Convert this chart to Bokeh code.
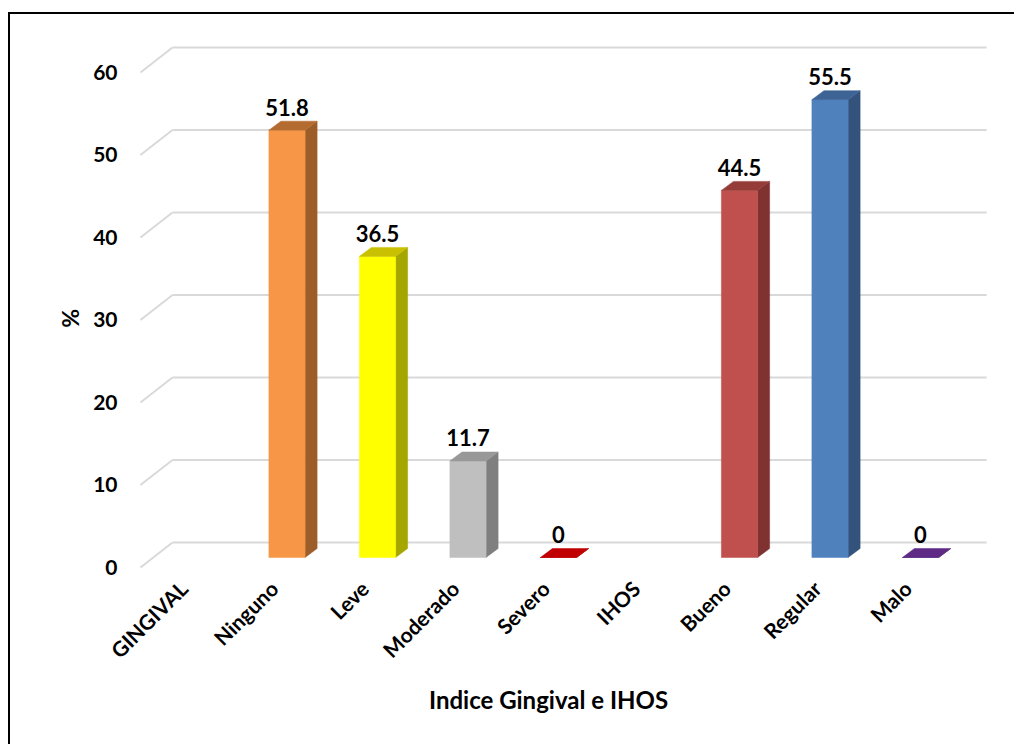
import math

from bokeh.core.properties import value
from bokeh.embed import file_html
from bokeh.models import (ColumnDataSource, FixedTicker, LinearAxis, Range1d)
from bokeh.plotting import figure
from bokeh.resources import INLINE

# ---- data -------------------------------------------------------------
categories = ["GINGIVAL", "Ninguno", "Leve", "Moderado", "Severo",
              "IHOS", "Bueno", "Regular", "Malo"]
percent = [None, 51.8, 36.5, 11.7, 0, None, 44.5, 55.5, 0]
front_colors = [None, "#F79646", "#FFFF00", "#BFBFBF", "#C00000",
                None, "#C0504D", "#4F81BD", "#5E2A86"]
side_colors = [None, "#9C5D29", "#A6A600", "#7F7F7F", "#8A0000",
               None, "#7F3230", "#33527C", "#3E1C5A"]
top_colors = [None, "#B46B30", "#C8C000", "#989898", "#C00000",
              None, "#953C39", "#3D6495", "#5E2A86"]
y_ticks = [0, 10, 20, 30, 40, 50, 60]
x_title = "Indice Gingival e IHOS"
y_title = "%"

# ---- pseudo-3D projection (category units / percent units) -----------
BAR_W = 0.40                      # width of a bar's front face
DEPTH_X, DEPTH_Y = 0.133, 1.09    # bar depth projected on the screen
WALL_Y = 1.82                     # back wall height shift behind the bars
FLOOR_X, FLOOR_Y = -0.144, -1.21  # front edge of the floor
WALL_X0, WALL_X1 = -0.265, 8.73   # back wall extent
SIDE_X0 = -0.619                  # front end of the side-wall diagonals

X_RANGE = (-0.729, 8.884)
Y_RANGE = (-1.576, 63.88)
FONT = "Lato"

p = figure(width=1006, height=732, output_backend="svg",
           toolbar_location=None, x_range=Range1d(*X_RANGE),
           y_range=Range1d(*Y_RANGE), x_axis_location=None,
           y_axis_location=None, min_border_left=120, min_border_right=16,
           min_border_top=16, min_border_bottom=176)
p.styles = {"margin-left": "8px", "margin-top": "12px",
            "border-left": "2px solid #000000",
            "border-top": "2px solid #000000"}
p.outline_line_color = None
p.background_fill_color = "white"
p.border_fill_color = "white"
p.grid.visible = False

# ---- walls: back gridlines plus the side-wall diagonals ----------------
p.segment(x0=[SIDE_X0] * len(y_ticks), y0=[t + FLOOR_Y for t in y_ticks],
          x1=[WALL_X0] * len(y_ticks), y1=[t + WALL_Y for t in y_ticks],
          line_color="#D9D9D9", line_width=2)
p.segment(x0=[WALL_X0] * len(y_ticks), y0=[t + WALL_Y for t in y_ticks],
          x1=[WALL_X1] * len(y_ticks), y1=[t + WALL_Y for t in y_ticks],
          line_color="#D9D9D9", line_width=2)

# ---- bars -------------------------------------------------------------
front = dict(left=[], right=[], top=[], color=[])
sides = dict(xs=[], ys=[], color=[])
tops = dict(xs=[], ys=[], color=[])
labels = dict(x=[], y=[], text=[])
for i, v in enumerate(percent):
    if v is None:
        continue
    l, r = i - BAR_W / 2, i + BAR_W / 2
    front["left"].append(l)
    front["right"].append(r)
    front["top"].append(v)
    front["color"].append(front_colors[i])
    sides["xs"].append([r, r + DEPTH_X, r + DEPTH_X, r])
    sides["ys"].append([0, DEPTH_Y, v + DEPTH_Y, v])
    sides["color"].append(side_colors[i])
    tops["xs"].append([l, r, r + DEPTH_X, l + DEPTH_X])
    tops["ys"].append([v, v, v + DEPTH_Y, v + DEPTH_Y])
    tops["color"].append(top_colors[i])
    labels["x"].append(i)
    labels["y"].append(v + 2.8)
    labels["text"].append(f"{v:g}")

p.patches("xs", "ys", source=ColumnDataSource(sides), fill_color="color",
          line_color="color", line_width=0.5)
p.quad(left="left", right="right", bottom=0, top="top",
       source=ColumnDataSource(front), fill_color="color",
       line_color="color", line_width=0.5)
p.patches("xs", "ys", source=ColumnDataSource(tops), fill_color="color",
          line_color="color", line_width=0.5)
p.text(x="x", y="y", text="text", source=ColumnDataSource(labels),
       text_font=value(FONT), text_font_style="bold",
       text_font_size="22px", text_align="center",
       text_baseline="middle", text_color="#000000")

# ---- axes sit on the front edge of the floor --------------------------
p.extra_y_ranges = {"front": Range1d(Y_RANGE[0] - FLOOR_Y,
                                     Y_RANGE[1] - FLOOR_Y)}
p.extra_x_ranges = {"front": Range1d(X_RANGE[0] - FLOOR_X,
                                     X_RANGE[1] - FLOOR_X)}

yaxis = LinearAxis(y_range_name="front", ticker=FixedTicker(ticks=y_ticks))
yaxis.major_label_standoff = 7
p.add_layout(yaxis, "left")

xaxis = LinearAxis(x_range_name="front",
                   ticker=FixedTicker(ticks=list(range(len(categories)))))
xaxis.major_label_overrides = {i: c for i, c in enumerate(categories)}
xaxis.major_label_orientation = math.pi / 4
xaxis.major_label_standoff = 8
p.add_layout(xaxis, "below")

# axis titles, each set on its own outer axis
x_title_pos = 3.89
y_title_pos = 30.2
xtitle_axis = LinearAxis(ticker=FixedTicker(ticks=[x_title_pos]))
xtitle_axis.major_label_overrides = {x_title_pos: x_title}
xtitle_axis.major_label_standoff = 4
p.add_layout(xtitle_axis, "below")

ytitle_axis = LinearAxis(y_range_name="front",
                         ticker=FixedTicker(ticks=[y_title_pos]))
ytitle_axis.major_label_overrides = {y_title_pos: y_title}
ytitle_axis.major_label_orientation = "vertical"
ytitle_axis.major_label_standoff = 0
p.add_layout(ytitle_axis, "left")

for ax in (xaxis, yaxis, xtitle_axis, ytitle_axis):
    ax.axis_line_color = None
    ax.major_tick_line_color = None
    ax.minor_tick_line_color = None
    ax.major_label_text_font = FONT
    ax.major_label_text_font_style = "bold"
    ax.major_label_text_font_size = "21px"
    ax.major_label_text_color = "#000000"
xtitle_axis.major_label_text_font_size = "24px"
ytitle_axis.major_label_text_font_size = "23px"

open("out.html", "w").write(file_html(p, INLINE))
